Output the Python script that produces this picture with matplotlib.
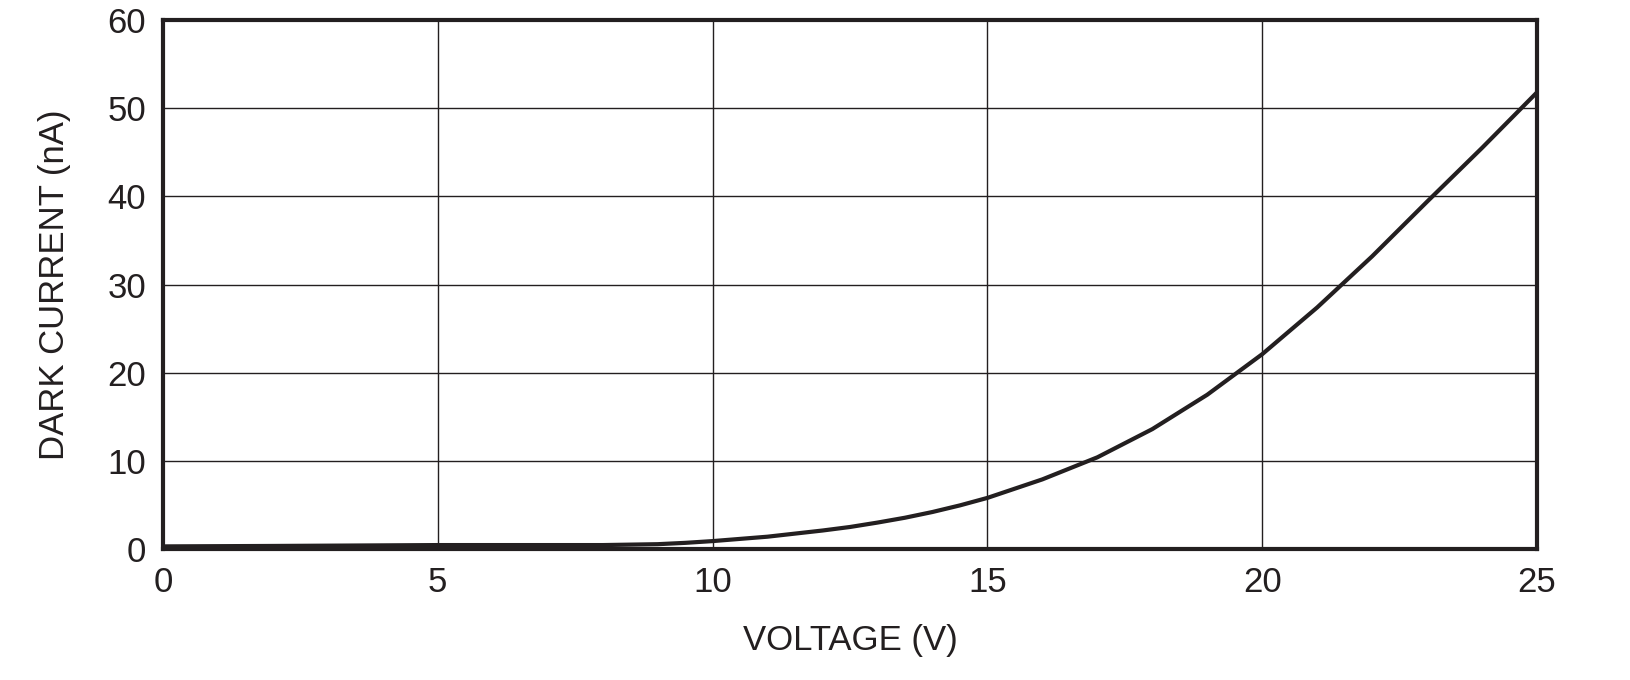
import matplotlib
matplotlib.use("Agg")
import matplotlib.pyplot as plt

voltage = [0, 2, 5, 7, 8, 9, 9.5, 10, 10.5, 11, 11.5, 12, 12.5, 13, 13.5, 14, 14.5, 15, 16, 17, 18, 19, 20, 21, 22, 23, 24, 25]
dark_current = [0.3, 0.35, 0.45, 0.45, 0.45, 0.55, 0.7, 0.9, 1.15, 1.4, 1.75, 2.1, 2.5, 3.0, 3.55, 4.2, 4.95, 5.8, 7.9, 10.4, 13.6, 17.5, 22.1, 27.4, 33.2, 39.4, 45.5, 51.8]

plt.rcParams['font.family'] = ['Liberation Sans', 'DejaVu Sans']

fig = plt.figure(figsize=(16.31, 6.8), dpi=100)
ax = fig.add_axes([0.0999, 0.1926, 0.8425, 0.778])
ax.plot(voltage, dark_current, color='#231f20', linewidth=3)
ax.set_xlim(0, 25)
ax.set_ylim(0, 60)
ax.set_xticks(range(0, 26, 5))
ax.set_yticks(range(0, 61, 10))
ax.grid(True, color='#231f20', linewidth=1)
for s in ax.spines.values():
    s.set_linewidth(3)
    s.set_color('#231f20')
ax.tick_params(length=0, labelsize=25, pad=12, colors='#231f20')
ax.set_xlabel("VOLTAGE (V)", fontsize=25, labelpad=18, color='#231f20')
ax.set_ylabel("DARK CURRENT (nA)", fontsize=25, labelpad=26, color='#231f20')
fig.savefig('out.png', dpi=100)
